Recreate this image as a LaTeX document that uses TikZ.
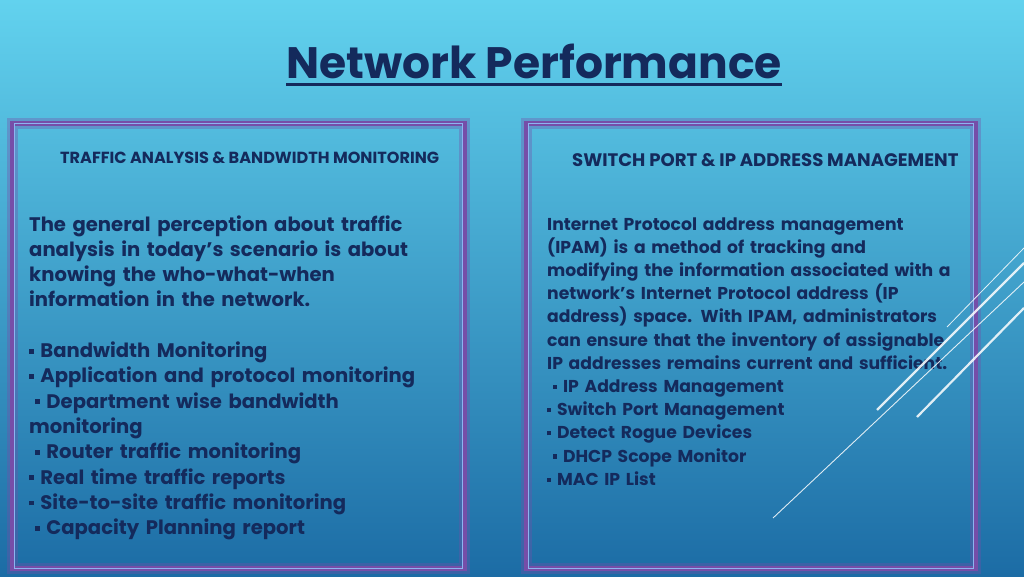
\documentclass[tikz,border=0pt]{standalone}
\usepackage{fontspec}
\setmainfont{Poppins}
\usetikzlibrary{positioning}

\definecolor{navy}{RGB}{20,42,92}
\definecolor{skytop}{RGB}{98,210,238}
\definecolor{skybot}{RGB}{28,108,165}
\definecolor{frame}{RGB}{118,78,168}
\definecolor{rim}{RGB}{140,180,240}
\newcommand{\blt}{\rule[0.2em]{0.24em}{0.24em}}

\tikzset{
  panel/.style={draw=frame, line width=5pt},
  glow/.style={draw=frame, line width=11pt, opacity=0.35},
  rimline/.style={draw=rim, line width=1pt},
  title/.style={text=navy, font=\bfseries\fontsize{44}{50}\selectfont, inner sep=0pt, anchor=base},
  head/.style={text=navy, font=\bfseries\fontsize{16.1}{18}\selectfont, inner sep=0pt, anchor=base west},
  body/.style={text=navy, inner sep=0pt, anchor=base west, align=left},
  slash/.style={draw=white, opacity=0.85, line width=#1},
}

\begin{document}
\begin{tikzpicture}[x=1pt,y=-1pt]
  \useasboundingbox (0,0) rectangle (1024,576);
  \shade[top color=skytop, bottom color=skybot] (0,0) rectangle (1024,576);
  % title
  \node[title] (ttl) at (534,78) {Network Performance};
  \draw[navy, line width=3pt] ([yshift=-6pt]ttl.base west) -- ([yshift=-6pt]ttl.base east);
  % panels
  \draw[glow] (12,123) rectangle (464,568);
  \draw[panel] (12,123) rectangle (464,568);
  \draw[rimline] (14,123) rectangle (462,568);
  \draw[glow] (526,123) rectangle (975,568);
  \draw[panel] (526,123) rectangle (975,568);
  \draw[rimline] (528,123) rectangle (973,568);
  % left panel
  \node[head] (lhead) at (60,163) {TRAFFIC ANALYSIS \& BANDWIDTH MONITORING};
  \node[body, text width=430pt, font=\bfseries\fontsize{19.6}{25.3}\selectfont] (lbody) at (29,231)
    {The general perception about traffic\\
     analysis in today’s scenario is about\\
     knowing the who-what-when\\
     information in the network.\\[25.3pt]
     \blt{} Bandwidth Monitoring\\
     \blt{} Application and protocol monitoring\\
     \hspace{6pt}\blt{} Department wise bandwidth\\
     monitoring\\
     \hspace{6pt}\blt{} Router traffic monitoring\\
     \blt{} Real time traffic reports\\
     \blt{} Site-to-site traffic monitoring\\
     \hspace{6pt}\blt{} Capacity Planning report};
  % right panel
  \node[head, font=\bfseries\fontsize{18.1}{20}\selectfont] (rhead) at (572,166) {SWITCH PORT \& IP ADDRESS MANAGEMENT};
  \node[body, text width=430pt, font=\bfseries\fontsize{17.2}{23.2}\selectfont] (rbody) at (547,230)
    {Internet Protocol address management\\
     (IPAM) is a method of tracking and\\
     modifying the information associated with a\\
     network’s Internet Protocol address (IP\\
     address) space. With IPAM, administrators\\
     can ensure that the inventory of assignable\\
     IP addresses remains current and sufficient.\\
     \hspace{6pt}\blt{} IP Address Management\\
     \blt{} Switch Port Management\\
     \blt{} Detect Rogue Devices\\
     \hspace{6pt}\blt{} DHCP Scope Monitor\\
     \blt{} MAC IP List};
  % slashes
  \draw[slash=0.9pt] (773,518) -- (1024,282);
  \draw[slash=2.2pt] (877,410) -- (1024,263);
  \draw[slash=2.2pt] (917,417) -- (1024,308);
  \draw[slash=0.8pt] (947,327) -- (1024,248);
\end{tikzpicture}
\end{document}
